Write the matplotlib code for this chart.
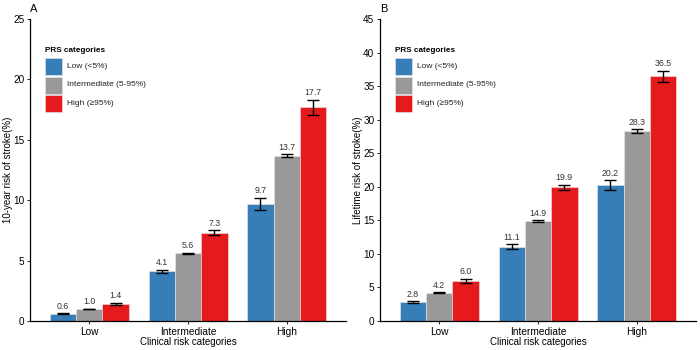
import matplotlib
matplotlib.use("Agg")
import matplotlib.pyplot as plt
import numpy as np
from matplotlib.patches import Rectangle

plt.rcParams['font.family'] = ['Liberation Sans', 'DejaVu Sans']

clinical = ["Low", "Intermediate", "High"]
prs = ["Low (<5%)", "Intermediate (5-95%)", "High (\u226595%)"]
colors = ["#377EB8", "#999999", "#E41A1C"]

tenyr = [[0.6, 4.1, 9.7], [1.0, 5.6, 13.7], [1.4, 7.3, 17.7]]
tenyr_err = [[0.05, 0.15, 0.5], [0.03, 0.06, 0.13], [0.1, 0.22, 0.63]]
life = [[2.8, 11.1, 20.2], [4.2, 14.9, 28.3], [6.0, 19.9, 36.5]]
life_err = [[0.15, 0.3, 0.75], [0.08, 0.1, 0.25], [0.3, 0.4, 0.82]]

AX_W, AX_H = 316.0, 302.0
fig = plt.figure(figsize=(7, 3.5), dpi=100)
axA = fig.add_axes([30/700, 29/350, AX_W/700, AX_H/350])
axB = fig.add_axes([380/700, 29/350, AX_W/700, AX_H/350])

def panel(ax, vals, errs, ymax, ylabel, letter, lx):
    x = np.arange(1, 4)
    w = 0.8 / 3
    for i in range(3):
        xs = x + (i - 1) * w
        ax.bar(xs, vals[i], width=w, color=colors[i], edgecolor="#e8e8e8", linewidth=0.4, zorder=2)
        ax.errorbar(xs, vals[i], yerr=errs[i], fmt="none", ecolor="black", elinewidth=1.0,
                    capsize=4, capthick=1.0, zorder=3)
        for xx, v, e in zip(xs, vals[i], errs[i]):
            ax.text(xx, v + e + ymax * 0.008, f"{v:.1f}", ha="center", va="bottom",
                    fontsize=6.3, color="#333333")
    ax.set_xlim(0.4, 3.6)
    ax.set_ylim(0, ymax)
    ax.set_xticks(x)
    ax.set_xticklabels(clinical, fontsize=7.3)
    ax.tick_params(axis="y", labelsize=7.2, length=2.5, width=0.6, pad=1.5)
    ax.tick_params(axis="x", length=2.5, width=0.6, pad=1.5)
    for s in ["top", "right"]:
        ax.spines[s].set_visible(False)
    ax.spines["left"].set_linewidth(0.9)
    ax.spines["bottom"].set_linewidth(0.9)
    ax.set_xlabel("Clinical risk categories", fontsize=7.0, labelpad=0.5)
    ax.set_ylabel(ylabel, fontsize=7.0, labelpad=0)
    fig.text(lx / 700, 1 - 8.5 / 350, letter, fontsize=8, ha="center", va="center")

    # legend (drawn manually, positions in axes pixels from top-left)
    def ax_xy(px, py):
        return px / AX_W, 1 - py / AX_H
    tx, ty = ax_xy(15, 31)
    ax.text(tx, ty, "PRS categories", transform=ax.transAxes, fontsize=5.9,
            fontweight="bold", ha="left", va="center")
    key = 17.0
    for i, (c, lab) in enumerate(zip(colors, prs)):
        top = 39 + i * 18.5
        x0, y0 = ax_xy(15, top + key)
        ax.add_patch(Rectangle((x0, y0), key / AX_W, key / AX_H, transform=ax.transAxes,
                               facecolor=c, edgecolor="#e8e8e8", linewidth=0.4,
                               clip_on=False, zorder=4))
        lx2, ly2 = ax_xy(37, top + key / 2)
        ax.text(lx2, ly2, lab, transform=ax.transAxes, fontsize=6.0, ha="left",
                va="center", color="#222222")

panel(axA, tenyr, tenyr_err, 25, "10-year risk of stroke(%)", "A", 34)
panel(axB, life, life_err, 45, "Lifetime risk of stroke(%)", "B", 384)

fig.savefig("out.png", dpi=100)
